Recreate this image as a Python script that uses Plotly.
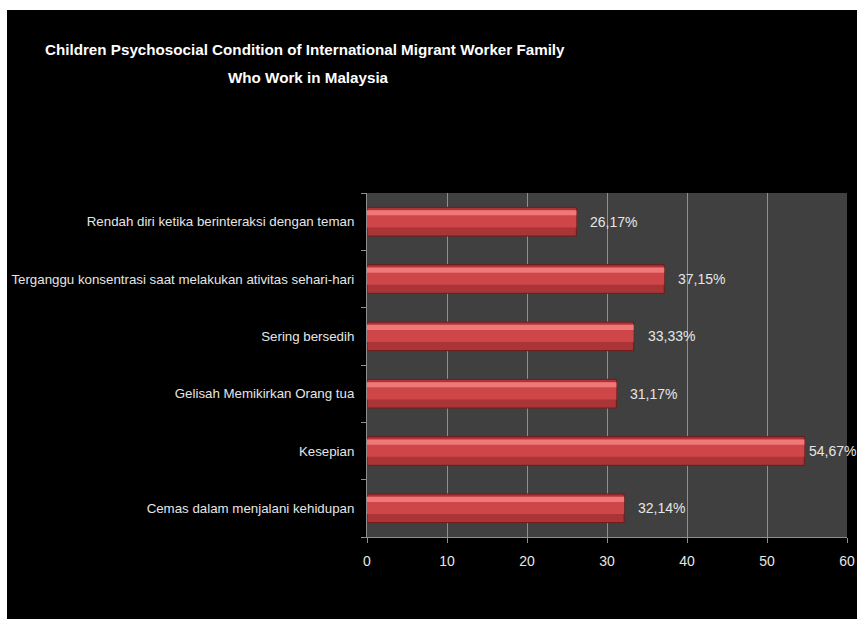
import plotly.graph_objects as go

# Psychosocial conditions (listed bottom to top) and their shares in percent
categories = [
    "Cemas dalam menjalani kehidupan",
    "Kesepian",
    "Gelisah Memikirkan Orang tua",
    "Sering bersedih",
    "Terganggu konsentrasi saat melakukan ativitas sehari-hari",
    "Rendah diri ketika berinteraksi dengan teman",
]
values = [32.14, 54.67, 31.17, 33.33, 37.15, 26.17]
x_ticks = [0, 10, 20, 30, 40, 50, 60]

title_lines = [
    "Children Psychosocial Condition of International Migrant Worker Family",
    "Who Work in Malaysia",
]

W, H = 857, 619
L, R, T, B = 367, 10, 193, 82
PW, PH = W - L - R, H - T - B
X_MAX = 60

FONT = "Liberation Sans, Arial, sans-serif"
LABEL_SIZE = 14
LABEL_W = 48  # approximate pixel width of a "00,00%" label

fig = go.Figure()

# Bar body, then a lighter middle band and a bright top highlight for a bevelled look
fig.add_trace(go.Bar(
    y=categories, x=values, orientation="h",
    width=0.5, offset=-0.25,
    marker=dict(color="#ab3436", line=dict(color="#6e1a1c", width=1)),
    hoverinfo="skip",
))
fig.add_trace(go.Bar(
    y=categories, x=values, orientation="h",
    width=0.3, offset=-0.1,
    marker=dict(color="#cf4648", line=dict(width=0)),
    hoverinfo="skip",
))
fig.add_trace(go.Bar(
    y=categories, x=values, orientation="h",
    width=0.09, offset=0.11,
    marker=dict(color="#f07878", line=dict(width=0)),
    hoverinfo="skip",
))

annotations = []
for c, v in zip(categories, values):
    # keep the label inside the page: pull it closer to the bar when space runs out
    bar_end_px = L + v / X_MAX * PW
    room = (W - 2) - bar_end_px - LABEL_W
    annotations.append(dict(
        x=v, y=c, xref="x", yref="y",
        text=f"{v:.2f}".replace(".", ",") + "%",
        showarrow=False, xanchor="left", xshift=max(2, min(12, room)),
        font=dict(family=FONT, size=LABEL_SIZE, color="#e6e6e6"),
    ))

# Two-line centred title
annotations.append(dict(
    x=(305 - L) / PW, y=1 + (T - 50) / PH, xref="paper", yref="paper",
    text="<b>" + title_lines[0] + "</b>", showarrow=False,
    xanchor="center", yanchor="middle",
    font=dict(family=FONT, size=15.2, color="#ffffff"),
))
annotations.append(dict(
    x=(308 - L) / PW, y=1 + (T - 77) / PH, xref="paper", yref="paper",
    text="<b>" + title_lines[1] + "</b>", showarrow=False,
    xanchor="center", yanchor="middle",
    font=dict(family=FONT, size=15.2, color="#ffffff"),
))

# Thin white frame strips along the top and left edges
shapes = [
    dict(type="rect", xref="paper", yref="paper",
         x0=-L / PW, x1=(W - L) / PW, y0=1 + (T - 10) / PH, y1=1 + T / PH,
         fillcolor="#ffffff", line=dict(width=0), layer="above"),
    dict(type="rect", xref="paper", yref="paper",
         x0=-L / PW, x1=(7 - L) / PW, y0=-B / PH, y1=1 + T / PH,
         fillcolor="#ffffff", line=dict(width=0), layer="above"),
]

fig.update_layout(
    width=W, height=H,
    margin=dict(l=L, r=R, t=T, b=B, pad=0),
    paper_bgcolor="#000000",
    plot_bgcolor="#404040",
    barmode="overlay",
    showlegend=False,
    annotations=annotations,
    shapes=shapes,
    font=dict(family=FONT, size=13, color="#e6e6e6"),
    xaxis=dict(
        range=[0, X_MAX], tickvals=x_ticks, ticktext=[str(t) for t in x_ticks],
        showgrid=True, gridcolor="#8f8f8f", gridwidth=1,
        showline=True, linecolor="#8f8f8f", linewidth=1,
        ticks="outside", ticklen=5, tickcolor="#8f8f8f",
        zeroline=False, fixedrange=True, automargin=False,
        ticklabelstandoff=6,
        tickfont=dict(family=FONT, size=14, color="#e6e6e6"),
    ),
    yaxis=dict(
        type="category", categoryorder="array", categoryarray=categories,
        range=[-0.5, len(categories) - 0.5],
        showline=True, linecolor="#8f8f8f", linewidth=1,
        ticks="outside", ticklen=5, tickcolor="#8f8f8f", tickson="boundaries",
        showgrid=False, ticklabelstandoff=9, automargin=False,
        tickfont=dict(family=FONT, size=13.3, color="#e6e6e6"),
    ),
)

# Page without scrollbars and with a black backdrop behind the figure
fig.write_html(
    "out.html",
    config={"displayModeBar": False},
    post_script=(
        "document.documentElement.style.overflow='hidden';"
        "document.documentElement.style.background='#000000';"
        "document.body.style.overflow='hidden';"
        "document.body.style.background='#000000';"
        "document.body.style.margin='0';"
    ),
)
